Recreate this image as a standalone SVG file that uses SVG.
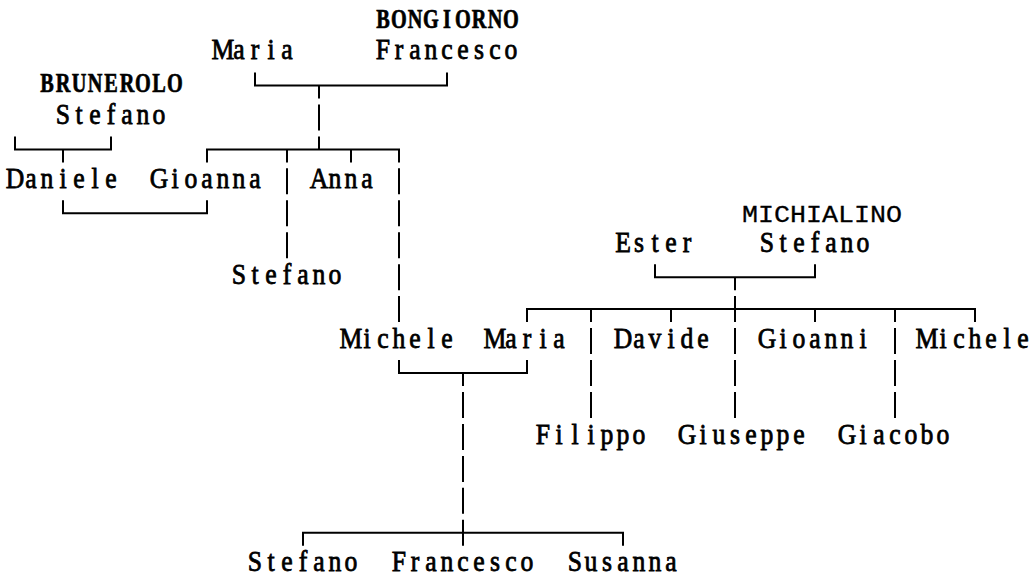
<svg xmlns="http://www.w3.org/2000/svg" width="1032" height="577" viewBox="0 0 1032 577">
<style>
.n{font-family:"Liberation Serif","DejaVu Serif",serif;font-size:28.5px;fill:#000;stroke:#000;stroke-width:0.8;text-anchor:middle}
.b{font-weight:bold;font-size:27px;stroke-width:0.7}
.m{font-family:"Liberation Mono","DejaVu Sans Mono",monospace;font-size:26.67px;fill:#000;stroke:#000;stroke-width:0.3}
#connectors path{fill:none;stroke:#000;stroke-width:2;stroke-linecap:butt;stroke-linejoin:miter}
</style>
<rect width="1032" height="577" fill="#fff"/>
<g id="connectors">
<path d="M255 72.5V85.5H447V72.5M319 85.5V98.5M319 104.4V130.4M319 136.4V149.4"/>
<path d="M207 162.4V149.4H399V162.4M287 149.4V162.4M351 149.4V162.4"/>
<path d="M287 168.3V194.3M287 200.3V226.3M287 232.2V258.2"/>
<path d="M399 168.3V194.3M399 200.3V226.3M399 232.2V258.2M399 264.2V290.2M399 296.1V322.1"/>
<path d="M15 136.4V149.4H111V136.4M63 149.4V162.4"/>
<path d="M63 200.3V213.3H207V200.3"/>
<path d="M655 264.2V277.2H815V264.2M735 277.2V290.2M735 296.1V322.1"/>
<path d="M527 322.1V309.1H975V322.1M591 309.1V322.1M671 309.1V322.1M815 309.1V322.1M895 309.1V322.1"/>
<path d="M591 328.1V354.1M591 360V386M591 392V418"/>
<path d="M735 328.1V354.1M735 360V386M735 392V418"/>
<path d="M895 328.1V354.1M895 360V386M895 392V418"/>
<path d="M399 360V373H527V360M463 373V386M463 392V418M463 423.9V449.9M463 455.9V481.9M463 487.8V513.8M463 519.8V545.8"/>
<path d="M303 545.8V532.8H623V545.8"/>
</g>
<g id="maria-1"><text class="n" transform="scale(0.9 1)" x="247.78 265.56 283.33 301.11 318.89" y="59.5">Maria</text></g>
<g id="bongiorno-francesco"><text class="n b" transform="scale(0.75 1)" x="510.67 532 553.33 574.67 596 617.33 638.67 660 681.33" y="28.5">BONGIORNO</text><text class="n" transform="scale(0.9 1)" x="425.56 443.33 461.11 478.89 496.67 514.44 532.22 550 567.78" y="59.5">Francesco</text></g>
<g id="brunerolo-stefano"><text class="n b" transform="scale(0.75 1)" x="62.67 84 105.33 126.67 148 169.33 190.67 212 233.33" y="92.5">BRUNEROLO</text><text class="n" transform="scale(0.9 1)" x="70 87.78 105.56 123.33 141.11 158.89 176.67" y="124.4">Stefano</text></g>
<g id="daniele"><text class="n" transform="scale(0.9 1)" x="16.67 34.44 52.22 70 87.78 105.56 123.33" y="188.3">Daniele</text></g>
<g id="gioanna"><text class="n" transform="scale(0.9 1)" x="176.67 194.44 212.22 230 247.78 265.56 283.33" y="188.3">Gioanna</text></g>
<g id="anna"><text class="n" transform="scale(0.9 1)" x="354.44 372.22 390 407.78" y="188.3">Anna</text></g>
<g id="stefano-1"><text class="n" transform="scale(0.9 1)" x="265.56 283.33 301.11 318.89 336.67 354.44 372.22" y="284.2">Stefano</text></g>
<g id="ester"><text class="n" transform="scale(0.9 1)" x="692.22 710 727.78 745.56 763.33" y="252.2">Ester</text></g>
<g id="michialino-stefano"><text class="m" transform="translate(742 221.5) scale(1 0.87)" x="0" y="0">MICHIALINO</text><text class="n" transform="scale(0.9 1)" x="852.22 870 887.78 905.56 923.33 941.11 958.89" y="252.2">Stefano</text></g>
<g id="michele-1"><text class="n" transform="scale(0.9 1)" x="390 407.78 425.56 443.33 461.11 478.89 496.67" y="348.1">Michele</text></g>
<g id="maria-2"><text class="n" transform="scale(0.9 1)" x="550 567.78 585.56 603.33 621.11" y="348.1">Maria</text></g>
<g id="davide"><text class="n" transform="scale(0.9 1)" x="692.22 710 727.78 745.56 763.33 781.11" y="348.1">Davide</text></g>
<g id="gioanni"><text class="n" transform="scale(0.9 1)" x="852.22 870 887.78 905.56 923.33 941.11 958.89" y="348.1">Gioanni</text></g>
<g id="michele-2"><text class="n" transform="scale(0.9 1)" x="1030 1047.78 1065.56 1083.33 1101.11 1118.89 1136.67" y="348.1">Michele</text></g>
<g id="filippo"><text class="n" transform="scale(0.9 1)" x="603.33 621.11 638.89 656.67 674.44 692.22 710" y="443.9">Filippo</text></g>
<g id="giuseppe"><text class="n" transform="scale(0.9 1)" x="763.33 781.11 798.89 816.67 834.44 852.22 870 887.78" y="443.9">Giuseppe</text></g>
<g id="giacobo"><text class="n" transform="scale(0.9 1)" x="941.11 958.89 976.67 994.44 1012.22 1030 1047.78" y="443.9">Giacobo</text></g>
<g id="stefano-2"><text class="n" transform="scale(0.9 1)" x="283.33 301.11 318.89 336.67 354.44 372.22 390" y="571">Stefano</text></g>
<g id="francesco-2"><text class="n" transform="scale(0.9 1)" x="443.33 461.11 478.89 496.67 514.44 532.22 550 567.78 585.56" y="571">Francesco</text></g>
<g id="susanna"><text class="n" transform="scale(0.9 1)" x="638.89 656.67 674.44 692.22 710 727.78 745.56" y="571">Susanna</text></g>
</svg>
